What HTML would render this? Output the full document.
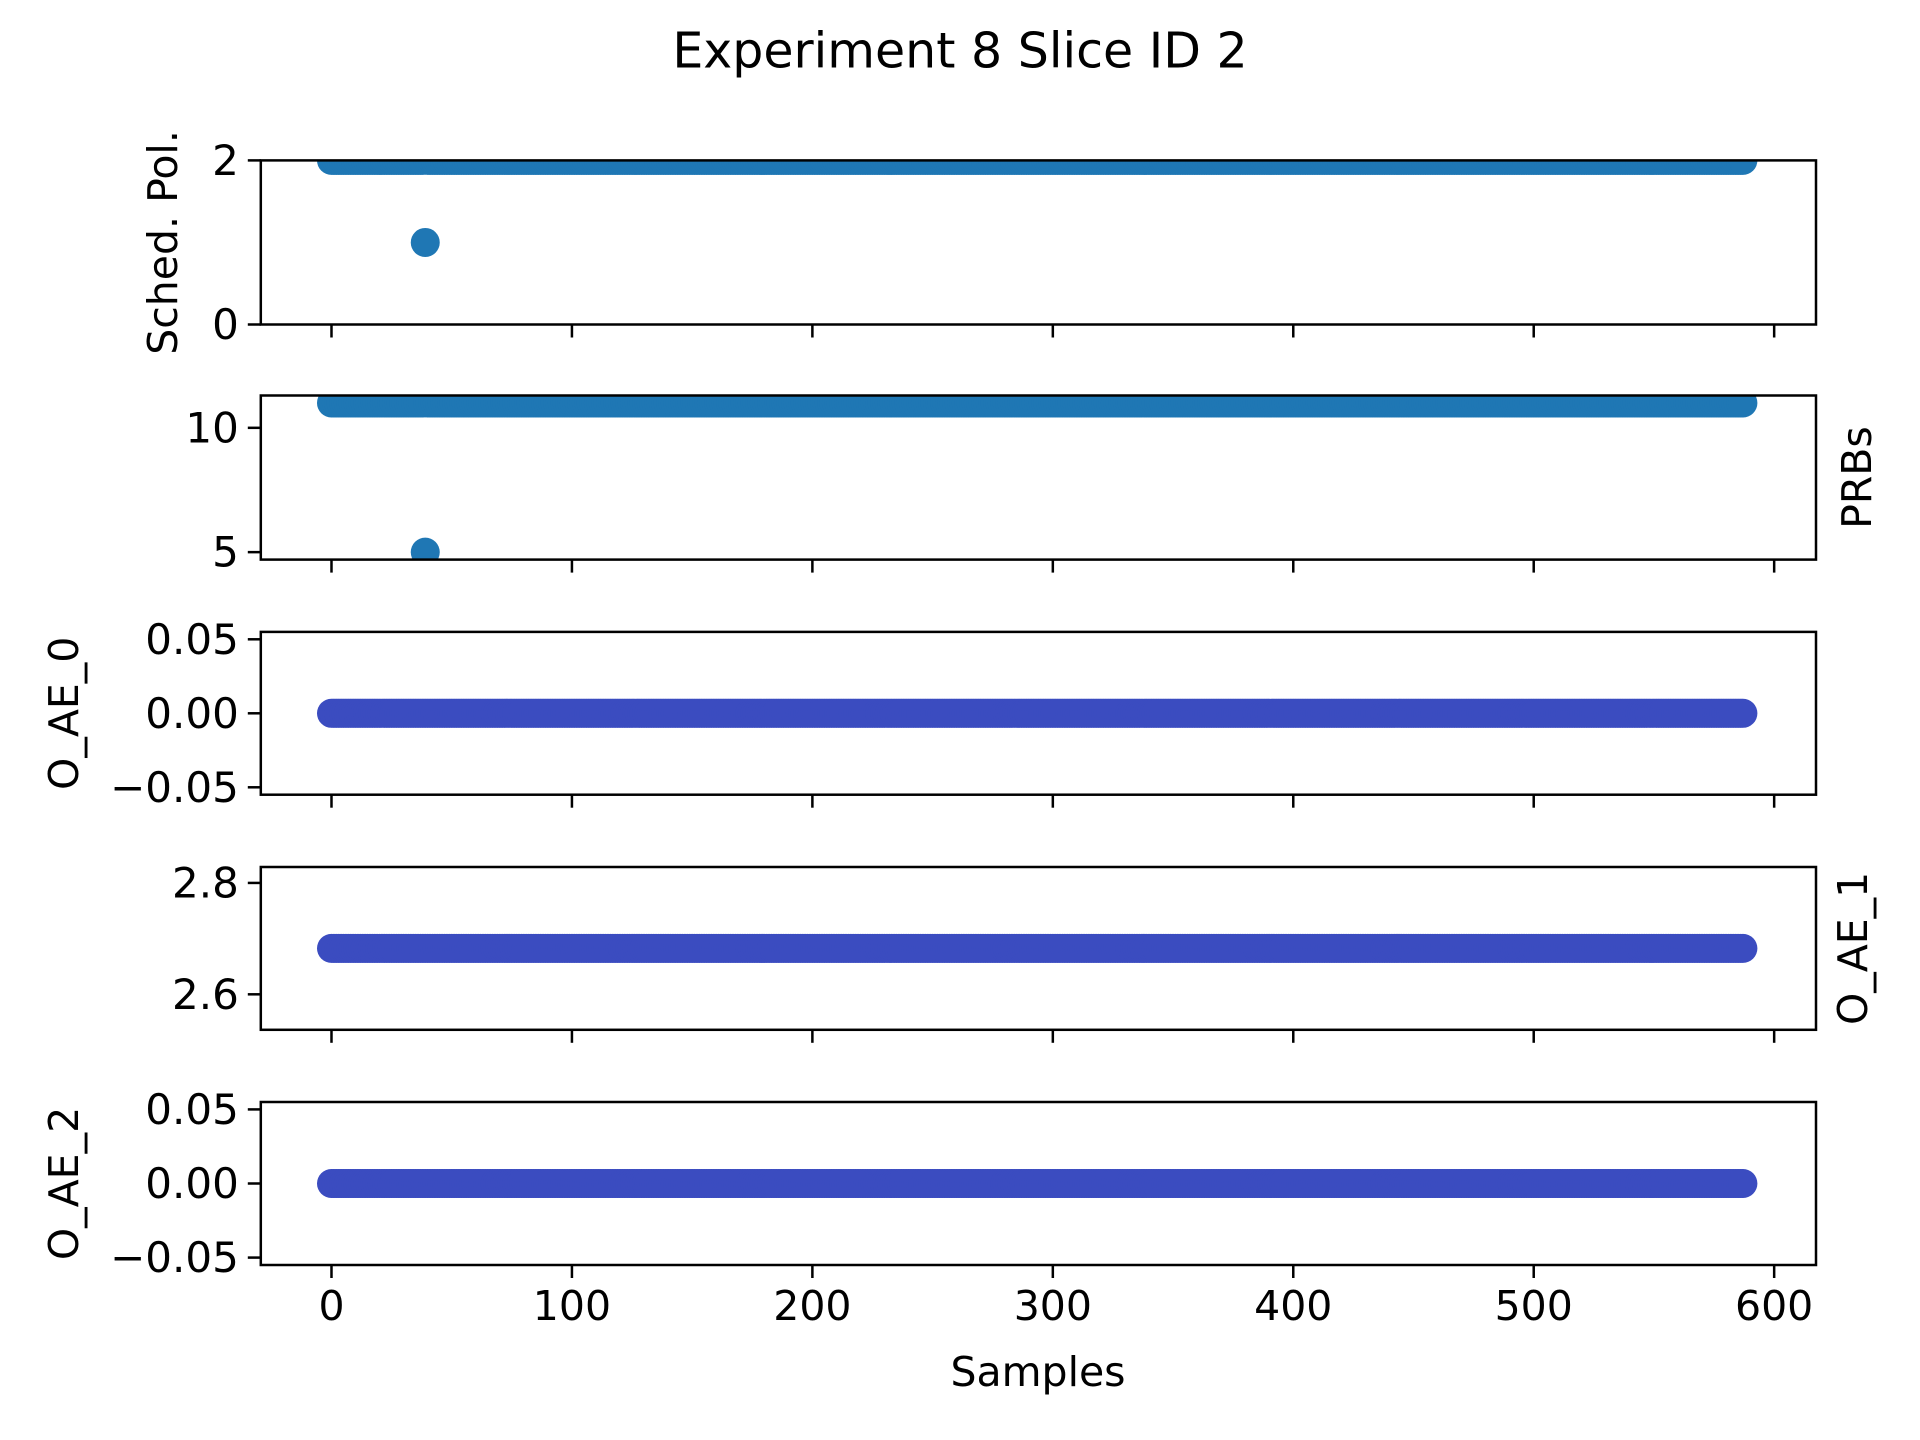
<!DOCTYPE html>
<html><head><meta charset="utf-8"><title>Experiment 8 Slice ID 2</title>
<style>html,body{margin:0;padding:0;background:#fff}svg{display:block}text{font-family:"DejaVu Sans","Liberation Sans",sans-serif;fill:#000}</style>
</head><body>
<svg id="fig" width="1920" height="1440" viewBox="0 0 1920 1440" xmlns="http://www.w3.org/2000/svg">
<rect width="1920" height="1440" fill="#fff"/>
<text x="960" y="51" font-size="49" text-anchor="middle" dominant-baseline="central">Experiment 8 Slice ID 2</text>
<text x="1038" y="1372" font-size="41" text-anchor="middle" dominant-baseline="central">Samples</text>
<g id="panels"></g>
</svg>
<script>
const xTicks = [0, 100, 200, 300, 400, 500, 600];
const nSamples = 588;
const schedBase = 2, prbBase = 11, ae0Base = 0, ae1Base = 2.6825, ae2Base = 0;
const outlierIndex = 39;
const schedOutlier = 1, prbOutlier = 5;
const schedTicks = ["0", "2"], schedTickVals = [0, 2];
const prbTicks = ["5", "10"], prbTickVals = [5, 10];
const ae0Ticks = ["\u22120.05", "0.00", "0.05"], ae0TickVals = [-0.05, 0, 0.05];
const ae1Ticks = ["2.6", "2.8"], ae1TickVals = [2.6, 2.8];
const ae2Ticks = ["\u22120.05", "0.00", "0.05"], ae2TickVals = [-0.05, 0, 0.05];

const NS = "http://www.w3.org/2000/svg";
const L = 260.8, R = 1816;
const xMin = -29.4, xMax = 617.4;
const xs = v => L + (v - xMin) / (xMax - xMin) * (R - L);
function mk(tag, attrs, parent){const e=document.createElementNS(NS,tag);for(const k in attrs)e.setAttribute(k,attrs[k]);parent.appendChild(e);return e;}

function series(base, outVal){const a=[];for(let i=0;i<nSamples;i++)a.push(i===outlierIndex&&outVal!==undefined?outVal:base);return a;}
const panels = [
 {name:"sched-pol", top:160.4, bot:324.5, ymin:0, ymax:2, vals:series(schedBase, schedOutlier), color:"#1f77b4", ticks:schedTicks, tv:schedTickVals, label:"Sched. Pol.", side:"left", lx:163},
 {name:"prbs", top:395.5, bot:559.6, ymin:4.7, ymax:11.3, vals:series(prbBase, prbOutlier), color:"#1f77b4", ticks:prbTicks, tv:prbTickVals, label:"PRBs", side:"right", lx:1857},
 {name:"o-ae-0", top:631.9, bot:794.7, ymin:-0.055, ymax:0.055, vals:series(ae0Base), color:"#3b4cc0", ticks:ae0Ticks, tv:ae0TickVals, label:"O_AE_0", side:"left", lx:64},
 {name:"o-ae-1", top:867, bot:1029.8, ymin:2.5363, ymax:2.8286, vals:series(ae1Base), color:"#3b4cc0", ticks:ae1Ticks, tv:ae1TickVals, label:"O_AE_1", side:"right", lx:1853},
 {name:"o-ae-2", top:1102, bot:1265, ymin:-0.055, ymax:0.055, vals:series(ae2Base), color:"#3b4cc0", ticks:ae2Ticks, tv:ae2TickVals, label:"O_AE_2", side:"left", lx:64}
];
const root = document.getElementById("panels");
panels.forEach((p, pi) => {
  const g = mk("g", {}, root);
  
  
  const ys = v => p.bot - (v - p.ymin) / (p.ymax - p.ymin) * (p.bot - p.top);
  const cid = "clip" + pi;
  const cp = mk("clipPath", {id: cid}, g);
  mk("rect", {x: L, y: p.top, width: R - L, height: p.bot - p.top}, cp);
  const dots = mk("g", {"clip-path": "url(#" + cid + ")", fill: p.color}, g);
  
  
  p.vals.forEach((v, i) => {
    const c = mk("circle", {cx: xs(i).toFixed(2), cy: ys(v).toFixed(2), r: 14.5}, dots);
    
    
  });
  const frame = mk("rect", {x: L, y: p.top, width: R - L, height: p.bot - p.top, fill: "none", stroke: "#000", "stroke-width": 2.5}, g);
  
  
  xTicks.forEach(t => {
    const ln = mk("line", {x1: xs(t), x2: xs(t), y1: p.bot, y2: p.bot + 13, stroke: "#000", "stroke-width": 2.5}, g);
    
    
    if (pi === panels.length - 1) {
      const tx = mk("text", {x: xs(t), y: p.bot + 41, "font-size": 41, "text-anchor": "middle", "dominant-baseline": "central"}, g);
      tx.textContent = String(t);
      
      
    }
  });
  p.tv.forEach((v, k) => {
    const y = ys(v);
    const ln = mk("line", {x1: L - 13, x2: L, y1: y, y2: y, stroke: "#000", "stroke-width": 2.5}, g);
    
    
    const tx = mk("text", {x: L - 22, y: y, "font-size": 42, "text-anchor": "end", "dominant-baseline": "central"}, g);
    tx.textContent = p.ticks[k];
    
    
  });
  const cy = (p.top + p.bot) / 2;
  const lab = mk("text", {x: p.lx, y: cy, "font-size": 41, "text-anchor": "middle", "dominant-baseline": "central", transform: "rotate(-90 " + p.lx + " " + cy + ")"}, g);
  lab.textContent = p.label;
  
  
});
</script>
</body></html>
